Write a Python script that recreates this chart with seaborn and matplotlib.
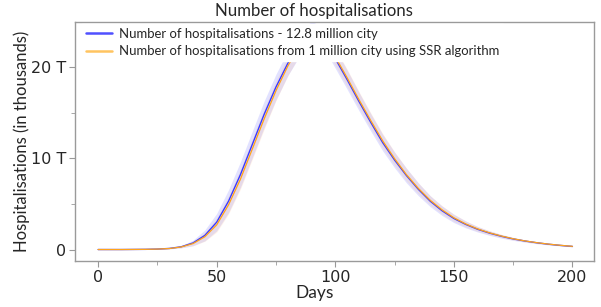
import numpy as np
import pandas as pd
import matplotlib.pyplot as plt
import matplotlib.ticker as mticker
import seaborn as sns

#%% Data (values in thousands)
days = [0, 5, 10, 15, 20, 25, 30, 35, 40, 45, 50, 55, 60, 65, 70, 75, 80, 85, 90, 95,
        100, 105, 110, 115, 120, 125, 130, 135, 140, 145, 150, 155, 160, 165, 170, 175,
        180, 185, 190, 195, 200]
hosp_big = [0, 0, 0, 0.01, 0.02, 0.05, 0.12, 0.3, 0.72, 1.55, 3.0, 5.3, 8.2, 11.5, 14.8, 17.8,
            20.4, 22.5, 23.8, 23.2, 20.9, 18.6, 16.2, 13.9, 11.7, 9.8, 8.1, 6.6, 5.3, 4.25,
            3.4, 2.75, 2.22, 1.8, 1.45, 1.16, 0.93, 0.74, 0.58, 0.45, 0.34]
hosp_ssr = [0, 0, 0, 0.01, 0.02, 0.05, 0.11, 0.28, 0.65, 1.4, 2.7, 4.9, 7.7, 11.0, 14.3, 17.4,
            20.1, 22.3, 23.7, 23.3, 21.1, 18.8, 16.4, 14.1, 11.9, 9.95, 8.2, 6.7, 5.4, 4.35,
            3.48, 2.8, 2.26, 1.83, 1.48, 1.18, 0.94, 0.75, 0.59, 0.46, 0.35]
spread_big = [0, 0, 0, 0, 0.01, 0.02, 0.05, 0.12, 0.3, 0.6, 0.95, 1.25, 1.4, 1.45, 1.45, 1.4,
              1.35, 1.3, 1.2, 1.1, 1.05, 1.05, 1.0, 0.95, 0.9, 0.85, 0.8, 0.7, 0.6, 0.52,
              0.45, 0.38, 0.3, 0.25, 0.2, 0.16, 0.12, 0.1, 0.08, 0.06, 0.05]
spread_ssr = [0, 0, 0, 0, 0.01, 0.02, 0.04, 0.1, 0.25, 0.5, 0.8, 1.0, 1.1, 1.15, 1.15, 1.1,
              1.05, 1.0, 1.0, 0.95, 0.95, 0.95, 0.9, 0.85, 0.8, 0.75, 0.7, 0.6, 0.5, 0.45,
              0.4, 0.33, 0.27, 0.22, 0.18, 0.14, 0.11, 0.09, 0.07, 0.05, 0.04]

label_big = 'Number of hospitalisations - 12.8 million city'
label_ssr = 'Number of hospitalisations from 1 million city using SSR algorithm'

data = pd.DataFrame({'day': days, 'big': hosp_big, 'ssr': hosp_ssr,
                     'sb': spread_big, 'ss': spread_ssr})

#%% Plot
sns.set_style('white')
plt.rcParams['font.family'] = ['Lato', 'DejaVu Sans']

fig = plt.figure(figsize=(6.01, 3.07), dpi=100)
ax = fig.add_axes([0.125, 0.15, 0.863, 0.778])

blue = '#3a3aff'
orange = '#ffa31a'

ax.fill_between(data['day'], data['big'] - data['sb'], data['big'] + data['sb'],
                color='#8c8cff', alpha=0.25, lw=0)
ax.fill_between(data['day'], data['ssr'] - data['ss'], data['ssr'] + data['ss'],
                color='#ffb070', alpha=0.15, lw=0)
sns.lineplot(data=data, x='day', y='big', color=blue, lw=1.0, label=label_big, ax=ax)
sns.lineplot(data=data, x='day', y='ssr', color=orange, lw=0.9, label=label_ssr, ax=ax)

ax.set_xlim(-9.7, 209)
ax.set_ylim(-1.25, 24.9)
ax.xaxis.set_major_locator(mticker.MultipleLocator(50))
ax.xaxis.set_minor_locator(mticker.MultipleLocator(25))
ax.yaxis.set_major_locator(mticker.MultipleLocator(10))
ax.yaxis.set_minor_locator(mticker.MultipleLocator(5))
ax.yaxis.set_major_formatter(mticker.FuncFormatter(lambda v, p: '0' if v == 0 else f'{v:.0f} T'))
ax.tick_params(which='both', direction='out', color='#999999', bottom=True, left=True)
ax.tick_params(which='major', length=4, labelsize=11.5, pad=2.5)
ax.tick_params(which='minor', length=3)
for lab in ax.get_xticklabels() + ax.get_yticklabels():
    lab.set_family('DejaVu Sans')
for s in ax.spines.values():
    s.set_color('#9a9a9a')
    s.set_linewidth(1.0)

ax.set_xlabel('Days', fontsize=12.5)
ax.xaxis.set_label_coords((315 - 75) / 519, -(293 - 261) / 239)
ax.xaxis.label.set_va('center')
ax.set_ylabel('Hospitalisations (in thousands)', fontsize=12)
ax.yaxis.set_label_coords((22 - 75) / 519, (261 - 141) / 239)
ax.yaxis.label.set_va('center')
fig.text(314 / 601, 1 - 11 / 307, 'Number of hospitalisations', fontsize=12.1,
         ha='center', va='center')

leg = ax.legend(loc='upper left', bbox_to_anchor=(0.01, 1.0), fontsize=9.45,
                frameon=True, framealpha=1, edgecolor='white', facecolor='white',
                borderaxespad=0.15, handlelength=1.95, handletextpad=0.55,
                labelspacing=0.4, borderpad=0.3, fancybox=False)
leg.get_lines()[0].set_color('#5050ff')
leg.get_lines()[1].set_color('#ffc460')
for l in leg.get_lines():
    l.set_linewidth(1.8)

plt.savefig('out.png', dpi=100)
